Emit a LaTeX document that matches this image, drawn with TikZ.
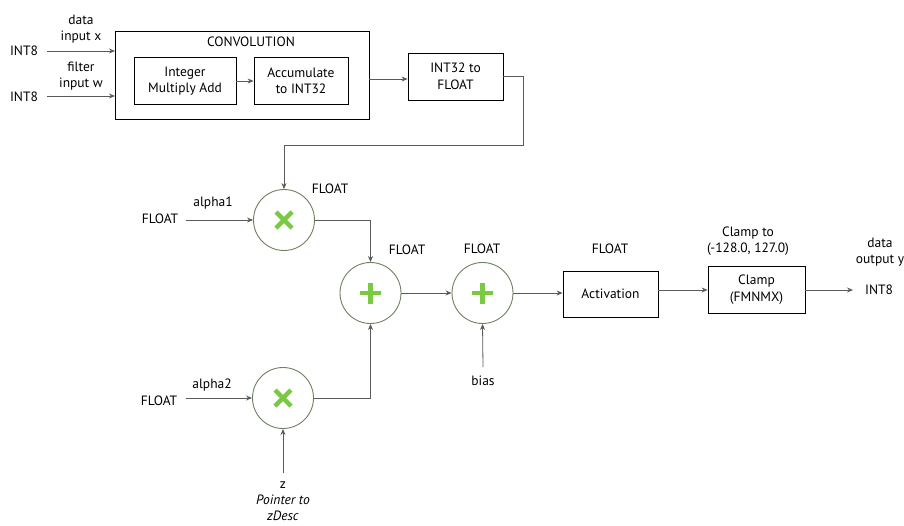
\documentclass[tikz,border=0pt]{standalone}
\usepackage{fontspec}
\setmainfont{PT Sans}
\usetikzlibrary{arrows.meta}
\definecolor{ln}{HTML}{5A5A5A}
\definecolor{circ}{HTML}{6F8060}
\definecolor{grn}{HTML}{7AC943}
\begin{document}
\begin{tikzpicture}[x=1pt,y=-1pt,
  font=\fontsize{13.5}{16.5}\selectfont,
  box/.style={draw=black, line width=0.8pt, align=center, inner sep=0pt},
  op/.style={circle, draw=circ, line width=0.9pt, minimum size=61pt, inner sep=0pt},
  lbl/.style={align=center, inner sep=0pt},
  conn/.style={draw=ln, line width=0.8pt},
  arr/.style={conn, -{Stealth[length=6pt,width=5pt]}},
  xsym/.style={grn, line width=4.5pt},
]
\useasboundingbox (0,0) rectangle (904,525);

% conv block
\node[box, minimum width=254pt, minimum height=88pt] (conv) at (242,75) {};
\node[lbl] (convt) at (251,42) {CONVOLUTION};
\node[box, minimum width=102pt, minimum height=47pt] (imad) at (185,81) {Integer\\Multiply Add};
\node[box, minimum width=94pt, minimum height=47pt] (acc) at (301,81) {Accumulate\\to INT32};
\node[box, minimum width=95pt, minimum height=47pt] (i2f) at (455.5,76.5) {INT32 to\\FLOAT};

% inputs
\node[lbl] (int8a) at (24,51) {INT8};
\node[lbl] (int8b) at (24,97) {INT8};
\node[lbl] (datax) at (81,29) {data\\input x};
\node[lbl] (filtw) at (81,76) {filter\\input w};
\coordinate (ca) at (115,51);
\coordinate (cb) at (115,96);
\coordinate (sa) at (47,51);
\coordinate (sb) at (47,96);
\draw[arr] (sa) -- (ca);
\draw[arr] (sb) -- (cb);
\draw[arr] (imad.east) -- (acc.west);
\draw[arr] (conv.east |- 0,79) -- (i2f.west |- 0,79);

% operators
\node[op] (mul1) at (284,220) {};
\node[op] (add1) at (370.5,293) {};
\node[op] (add2) at (482.5,293) {};
\node[op] (mul2) at (283,398) {};

\foreach \n in {mul1,mul2}{
  \draw[xsym] (\n.center) ++(-8,-8) -- ++(16,16);
  \draw[xsym] (\n.center) ++(8,-8) -- ++(-16,16);
}
\foreach \n in {add1,add2}{
  \draw[xsym] (\n.center) ++(-10.5,0) -- ++(21,0);
  \draw[xsym] (\n.center) ++(0,-10.5) -- ++(0,21);
}

% int32->float to mul1
\coordinate (t1) at (523,76);
\coordinate (t2) at (523,145);
\draw[arr] (i2f.east |- t1) -- (t1) -- (t2) -| (mul1.north);

% mul1 inputs
\node[lbl] (f1) at (160,219) {FLOAT};
\node[lbl] (a1) at (213,203) {alpha1};
\coordinate (m1s) at (186,220);
\draw[arr] (m1s) -- (mul1.west);
\node[lbl] (fm1) at (330,189) {FLOAT};

% mul2 inputs
\node[lbl] (f2) at (159,401) {FLOAT};
\node[lbl] (a2) at (212,385) {alpha2};
\coordinate (m2s) at (186,398);
\draw[arr] (m2s) -- (mul2.west);
\node[lbl, font=\fontsize{13.5}{16}\selectfont] (zl) at (283,501) {z\\\textit{Pointer to}\\\textit{zDesc}};
\coordinate (zs) at (283,473);
\draw[arr] (zs) -- (mul2.south);

% to add1
\draw[arr] (mul1.east) -| (add1.north);
\draw[arr] (mul2.east) -| (add1.south);
\node[lbl] (fa1) at (407,250) {FLOAT};

% add1 -> add2
\draw[arr] (add1.east) -- (add2.west);
\node[lbl] (fa2) at (482,249) {FLOAT};
\node[lbl] (bias) at (483,381) {bias};
\coordinate (bs) at (483,367);
\draw[arr] (bs) -- (add2.south);

% activation
\node[box, minimum width=95pt, minimum height=46pt] (act) at (610.5,294) {Activation};
\node[lbl] (fact) at (610,249) {FLOAT};
\draw[arr] (add2.east) -- (act.west |- add2.east);

% clamp
\node[box, minimum width=97pt, minimum height=47pt] (clamp) at (756.5,289.5) {Clamp\\(FMNMX)};
\node[lbl] (clampto) at (748,241) {Clamp to\\(-128.0, 127.0)};
\draw[arr] (act.east |- 0,290) -- (clamp.west |- 0,290);

% output
\node[lbl] (outl) at (880,252) {data\\output y};
\node[lbl] (int8o) at (879,290) {INT8};
\coordinate (oe) at (853,290);
\draw[arr] (clamp.east |- oe) -- (oe);
\end{tikzpicture}
\end{document}
